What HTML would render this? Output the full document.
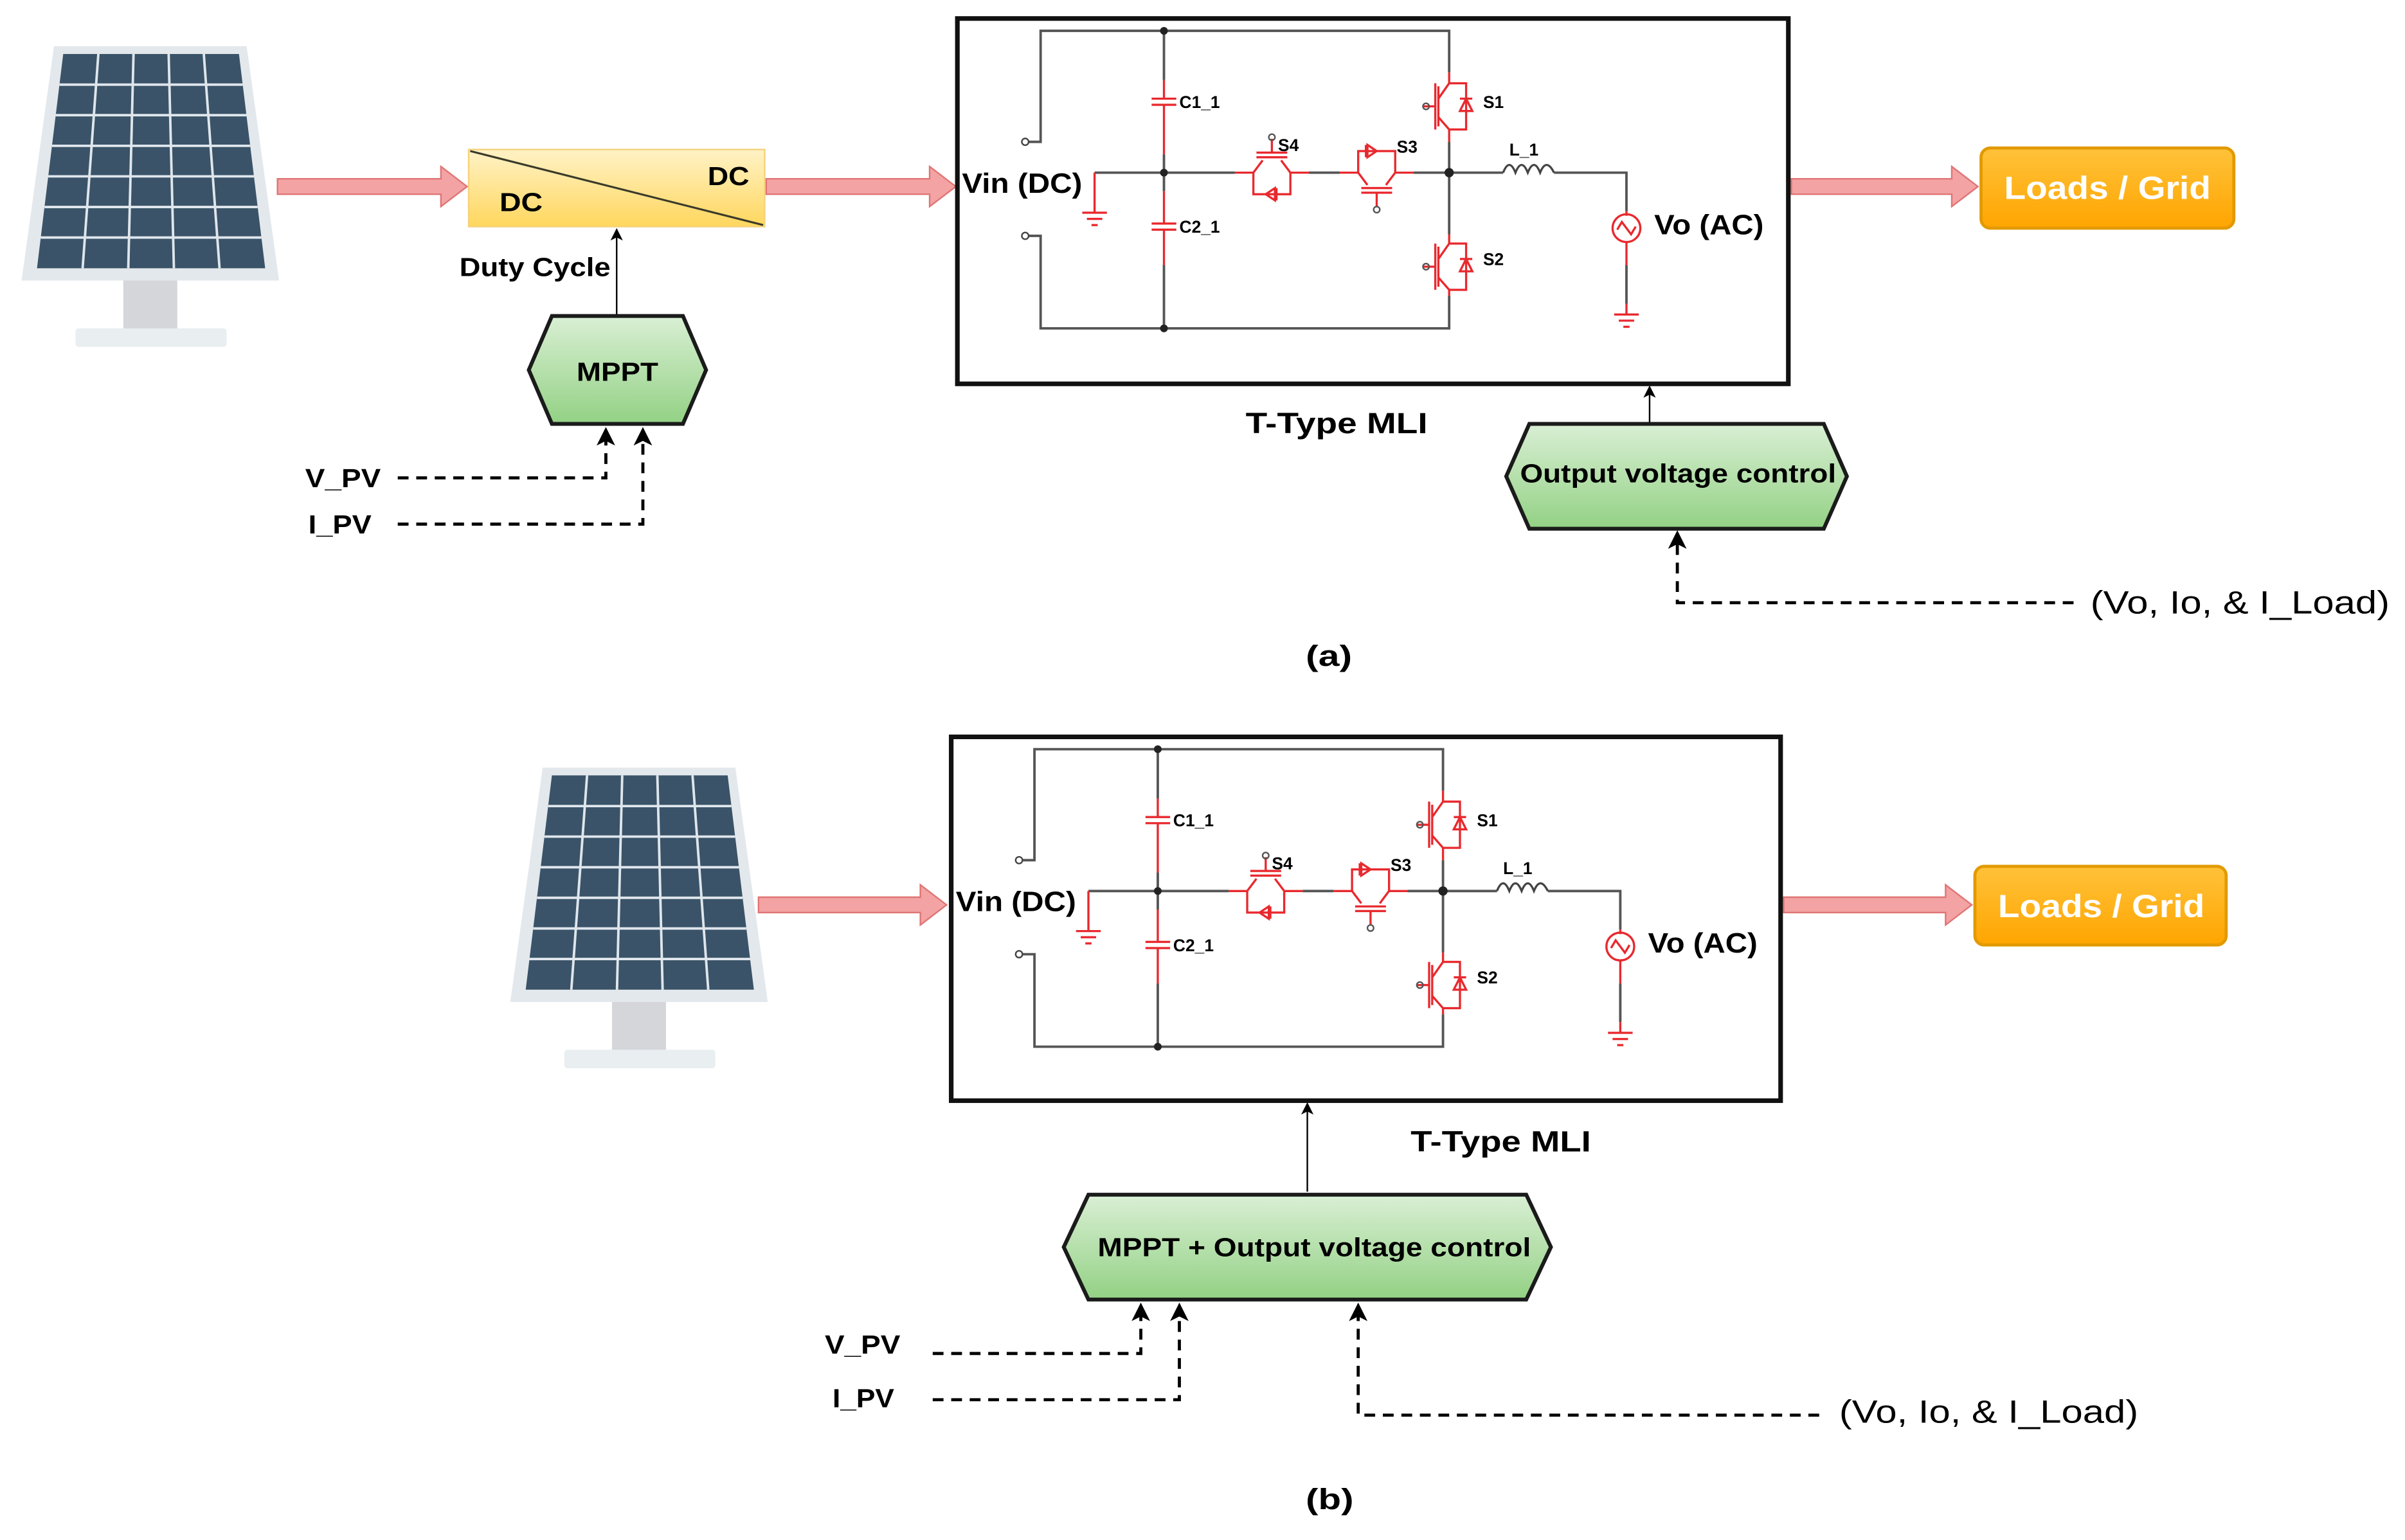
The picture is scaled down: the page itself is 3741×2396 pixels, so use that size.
<!DOCTYPE html>
<html><head><meta charset="utf-8"><style>
html,body{margin:0;padding:0;background:#fff;}
svg{display:block;}
text{font-family:"Liberation Sans",sans-serif;}
</style></head><body>
<svg width="3741" height="2396" viewBox="0 0 1560 999" preserveAspectRatio="none" xmlns="http://www.w3.org/2000/svg">
<defs>
<linearGradient id="yel" x1="0" y1="0" x2="0" y2="1"><stop offset="0" stop-color="#fff2c6"/><stop offset="1" stop-color="#ffd75e"/></linearGradient>
<linearGradient id="grn" x1="0" y1="0" x2="0" y2="1"><stop offset="0" stop-color="#d9efd4"/><stop offset="1" stop-color="#93d184"/></linearGradient>
<linearGradient id="org" x1="0" y1="0" x2="0" y2="1"><stop offset="0" stop-color="#ffc23a"/><stop offset="1" stop-color="#ffa500"/></linearGradient>
<marker id="ah" markerWidth="8" markerHeight="8" refX="6" refY="4" orient="auto" markerUnits="userSpaceOnUse"><path d="M0,0 L8,4 L0,8 L2,4 Z" fill="#000"/></marker>
<marker id="ah2" markerWidth="12" markerHeight="12" refX="9" refY="6" orient="auto" markerUnits="userSpaceOnUse"><path d="M0,0 L12,6 L0,12 L3,6 Z" fill="#000"/></marker>
</defs>

<!-- ============ PART A ============ -->
<g>
<polygon points="35,30 160,30 181,182 14,182" fill="#e3e8ec"/>
<polygon points="41,35 155,35 172,174 24,174" fill="#3a5368"/>
<g stroke="#dfe6ec" stroke-width="1.6">
<line x1="63.8" y1="35" x2="53.6" y2="174"/><line x1="86.6" y1="35" x2="83.2" y2="174"/><line x1="109.4" y1="35" x2="112.8" y2="174"/><line x1="132.2" y1="35" x2="142.4" y2="174"/>
<line x1="38.6" y1="54.9" x2="157.4" y2="54.9"/><line x1="36.1" y1="74.7" x2="159.9" y2="74.7"/><line x1="33.7" y1="94.6" x2="162.3" y2="94.6"/><line x1="31.3" y1="114.4" x2="164.7" y2="114.4"/><line x1="28.9" y1="134.3" x2="167.1" y2="134.3"/><line x1="26.4" y1="154.1" x2="169.6" y2="154.1"/>
</g>
<rect x="80" y="182" width="35" height="32" fill="#d4d6da"/>
<rect x="49" y="213" width="98" height="12" rx="2" fill="#e9eef1"/>
</g>

<g fill="#f3a3a3" stroke="#e07575" stroke-width="1">
<path d="M180,116 H286 V108 L303,121 L286,134 V126 H180 Z"/>
<path d="M497,116 H603 V108 L620,121 L603,134 V126 H497 Z"/>
<path d="M1162,116 H1266 V108 L1283,121 L1266,134 V126 H1162 Z"/>
</g>

<rect x="304" y="97" width="192" height="50" fill="url(#yel)" stroke="#f5d27a" stroke-width="1"/>
<line x1="305" y1="98" x2="495" y2="146" stroke="#3a3a2a" stroke-width="1.3"/>
<text x="324" y="137" font-size="17" font-weight="bold" textLength="28" lengthAdjust="spacingAndGlyphs">DC</text>
<text x="459" y="120" font-size="17" font-weight="bold" textLength="27" lengthAdjust="spacingAndGlyphs">DC</text>
<line x1="400" y1="205" x2="400" y2="150" stroke="#000" stroke-width="1" marker-end="url(#ah)"/>
<text x="298" y="179" font-size="17" font-weight="bold" textLength="98" lengthAdjust="spacingAndGlyphs">Duty Cycle</text>

<polygon points="358,205 443,205 458,240 443,275 358,275 343,240" fill="url(#grn)" stroke="#1b1b1b" stroke-width="2.5"/>
<text x="374" y="247" font-size="17" font-weight="bold" textLength="53" lengthAdjust="spacingAndGlyphs">MPPT</text>
<text x="198" y="316" font-size="17" font-weight="bold" textLength="49" lengthAdjust="spacingAndGlyphs">V_PV</text>
<text x="200" y="346" font-size="17" font-weight="bold" textLength="41" lengthAdjust="spacingAndGlyphs">I_PV</text>
<g fill="none" stroke="#000" stroke-width="2" stroke-dasharray="7,5">
<path d="M258,310 H393 V280" marker-end="url(#ah2)"/>
<path d="M258,340 H417 V280" marker-end="url(#ah2)"/>
<path d="M1345,391 H1088 V347" marker-end="url(#ah2)"/>
</g>

<rect x="621" y="12" width="539" height="237" fill="#fff" stroke="#111" stroke-width="3"/>
<g transform="translate(621,12)">
<g fill="none" stroke="#555" stroke-width="1.6">
<path d="M46,80 H54 V8 H319 V35"/><path d="M46,141 H54 V201 H319 V180"/>
<path d="M134,8 V40"/><path d="M134,88 V112"/><path d="M134,160 V201"/>
<path d="M89,100 H180"/><path d="M228,100 H248"/><path d="M296,100 H354"/><path d="M387,100 H434 V125"/>
<path d="M319,80 V140"/><path d="M434,160 V185"/>
</g>
<g fill="#222"><circle cx="134" cy="8" r="2.5"/><circle cx="134" cy="100" r="2.5"/><circle cx="134" cy="201" r="2.5"/><circle cx="319" cy="100" r="3"/></g>
<g fill="none" stroke="#444" stroke-width="1"><circle cx="44" cy="80" r="2.2"/><circle cx="44" cy="141" r="2.2"/></g>
<g fill="none" stroke="#e8292e" stroke-width="1.4">
<path d="M134,40 V52 M126,52 H142 M126,56 H142 M134,56 V88"/>
<path d="M134,112 V133 M126,133 H142 M126,137 H142 M134,137 V160"/>
<path d="M89,100 V126 M81,126 H97 M84,130 H94 M87,134 H91"/>
<path d="M319,35 V42 H330 V72 H319 V80 M310,42 V72 M312,44 V70 M312,52 L319,42 M312,64 L319,72 M302,57 H310 M330,52 L326,60 H334 Z M326,52 H334"/>
<path d="M319,140 V146 H330 V176 H319 V180 M310,146 V176 M312,148 V174 M312,156 L319,146 M312,168 L319,176 M302,161 H310 M330,156 L326,164 H334 Z M326,156 H334"/>
<path d="M180,100 H192 V114 H216 V100 H228 M192,100 L198,92 M216,100 L210,92 M194,90 H214 M194,87 H214 M204,87 V78 M200,114 L206,110 L206,118 Z M207,110 V118"/>
<path d="M248,100 H260 V86 H284 V100 H296 M260,100 L266,108 M284,100 L278,108 M262,110 H282 M262,113 H282 M272,113 V122 M272,86 L266,82 L266,90 Z M265,82 V90"/>
<path d="M434,125 V128 M434,145 V160 M434,185 V192 M426,192 H442 M429,196 H439 M432,200 H436"/>
<circle cx="434" cy="136" r="9"/>
<path d="M428,137 L431,132 L437,140 L440,135"/>
</g>
<g fill="none" stroke="#555" stroke-width="1"><circle cx="304" cy="57" r="2"/><circle cx="304" cy="161" r="2"/><circle cx="204" cy="77" r="2"/><circle cx="272" cy="124" r="2"/></g>
<path d="M354,100 q4,-10 8,0 q4,-10 8,0 q4,-10 8,0 q4,-10 9,0" fill="none" stroke="#444" stroke-width="1.4"/>
<g font-size="11" font-weight="bold">
<text x="144" y="58">C1_1</text><text x="144" y="139">C2_1</text>
<text x="341" y="58">S1</text><text x="341" y="160">S2</text>
<text x="208" y="86">S4</text><text x="285" y="87">S3</text><text x="358" y="89">L_1</text>
</g>
<text x="3" y="113" font-size="18" font-weight="bold" textLength="78" lengthAdjust="spacingAndGlyphs">Vin (DC)</text>
<text x="452" y="140" font-size="18" font-weight="bold" textLength="71" lengthAdjust="spacingAndGlyphs">Vo (AC)</text>
</g>
<text x="808" y="281" font-size="19" font-weight="bold" textLength="118" lengthAdjust="spacingAndGlyphs">T-Type MLI</text>

<rect x="1285" y="96" width="164" height="52" rx="6" fill="url(#org)" stroke="#e29a00" stroke-width="2"/>
<text x="1300" y="129" font-size="21" font-weight="bold" fill="#fff" textLength="134" lengthAdjust="spacingAndGlyphs">Loads / Grid</text>

<line x1="1070" y1="275" x2="1070" y2="252" stroke="#000" stroke-width="1" marker-end="url(#ah)"/>
<polygon points="992,275 1183,275 1198,309 1183,343 992,343 977,309" fill="url(#grn)" stroke="#1b1b1b" stroke-width="2.5"/>
<text x="986" y="313" font-size="17" font-weight="bold" textLength="205" lengthAdjust="spacingAndGlyphs">Output voltage control</text>
<text x="1356" y="398" font-size="21" textLength="194" lengthAdjust="spacingAndGlyphs">(Vo, Io, &amp; I_Load)</text>
<text x="847" y="432" font-size="19" font-weight="bold" textLength="30" lengthAdjust="spacingAndGlyphs">(a)</text>

<!-- ============ PART B ============ -->
<g transform="translate(317,468)">
<polygon points="35,30 160,30 181,182 14,182" fill="#e3e8ec"/>
<polygon points="41,35 155,35 172,174 24,174" fill="#3a5368"/>
<g stroke="#dfe6ec" stroke-width="1.6">
<line x1="63.8" y1="35" x2="53.6" y2="174"/><line x1="86.6" y1="35" x2="83.2" y2="174"/><line x1="109.4" y1="35" x2="112.8" y2="174"/><line x1="132.2" y1="35" x2="142.4" y2="174"/>
<line x1="38.6" y1="54.9" x2="157.4" y2="54.9"/><line x1="36.1" y1="74.7" x2="159.9" y2="74.7"/><line x1="33.7" y1="94.6" x2="162.3" y2="94.6"/><line x1="31.3" y1="114.4" x2="164.7" y2="114.4"/><line x1="28.9" y1="134.3" x2="167.1" y2="134.3"/><line x1="26.4" y1="154.1" x2="169.6" y2="154.1"/>
</g>
<rect x="80" y="182" width="35" height="32" fill="#d4d6da"/>
<rect x="49" y="213" width="98" height="12" rx="2" fill="#e9eef1"/>
</g>

<g fill="#f3a3a3" stroke="#e07575" stroke-width="1">
<path d="M492,582 H597 V574 L614,587 L597,600 V592 H492 Z"/>
<path d="M1157,582 H1262 V574 L1279,587 L1262,600 V592 H1157 Z"/>
</g>

<rect x="617" y="478" width="538" height="236" fill="#fff" stroke="#111" stroke-width="3"/>
<g transform="translate(617,478)">
<g fill="none" stroke="#555" stroke-width="1.6">
<path d="M46,80 H54 V8 H319 V35"/><path d="M46,141 H54 V201 H319 V180"/>
<path d="M134,8 V40"/><path d="M134,88 V112"/><path d="M134,160 V201"/>
<path d="M89,100 H180"/><path d="M228,100 H248"/><path d="M296,100 H354"/><path d="M387,100 H434 V125"/>
<path d="M319,80 V140"/><path d="M434,160 V185"/>
</g>
<g fill="#222"><circle cx="134" cy="8" r="2.5"/><circle cx="134" cy="100" r="2.5"/><circle cx="134" cy="201" r="2.5"/><circle cx="319" cy="100" r="3"/></g>
<g fill="none" stroke="#444" stroke-width="1"><circle cx="44" cy="80" r="2.2"/><circle cx="44" cy="141" r="2.2"/></g>
<g fill="none" stroke="#e8292e" stroke-width="1.4">
<path d="M134,40 V52 M126,52 H142 M126,56 H142 M134,56 V88"/>
<path d="M134,112 V133 M126,133 H142 M126,137 H142 M134,137 V160"/>
<path d="M89,100 V126 M81,126 H97 M84,130 H94 M87,134 H91"/>
<path d="M319,35 V42 H330 V72 H319 V80 M310,42 V72 M312,44 V70 M312,52 L319,42 M312,64 L319,72 M302,57 H310 M330,52 L326,60 H334 Z M326,52 H334"/>
<path d="M319,140 V146 H330 V176 H319 V180 M310,146 V176 M312,148 V174 M312,156 L319,146 M312,168 L319,176 M302,161 H310 M330,156 L326,164 H334 Z M326,156 H334"/>
<path d="M180,100 H192 V114 H216 V100 H228 M192,100 L198,92 M216,100 L210,92 M194,90 H214 M194,87 H214 M204,87 V78 M200,114 L206,110 L206,118 Z M207,110 V118"/>
<path d="M248,100 H260 V86 H284 V100 H296 M260,100 L266,108 M284,100 L278,108 M262,110 H282 M262,113 H282 M272,113 V122 M272,86 L266,82 L266,90 Z M265,82 V90"/>
<path d="M434,125 V128 M434,145 V160 M434,185 V192 M426,192 H442 M429,196 H439 M432,200 H436"/>
<circle cx="434" cy="136" r="9"/>
<path d="M428,137 L431,132 L437,140 L440,135"/>
</g>
<g fill="none" stroke="#555" stroke-width="1"><circle cx="304" cy="57" r="2"/><circle cx="304" cy="161" r="2"/><circle cx="204" cy="77" r="2"/><circle cx="272" cy="124" r="2"/></g>
<path d="M354,100 q4,-10 8,0 q4,-10 8,0 q4,-10 8,0 q4,-10 9,0" fill="none" stroke="#444" stroke-width="1.4"/>
<g font-size="11" font-weight="bold">
<text x="144" y="58">C1_1</text><text x="144" y="139">C2_1</text>
<text x="341" y="58">S1</text><text x="341" y="160">S2</text>
<text x="208" y="86">S4</text><text x="285" y="87">S3</text><text x="358" y="89">L_1</text>
</g>
<text x="3" y="113" font-size="18" font-weight="bold" textLength="78" lengthAdjust="spacingAndGlyphs">Vin (DC)</text>
<text x="452" y="140" font-size="18" font-weight="bold" textLength="71" lengthAdjust="spacingAndGlyphs">Vo (AC)</text>
</g>
<text x="915" y="747" font-size="19" font-weight="bold" textLength="117" lengthAdjust="spacingAndGlyphs">T-Type MLI</text>

<rect x="1281" y="562" width="163" height="51" rx="6" fill="url(#org)" stroke="#e29a00" stroke-width="2"/>
<text x="1296" y="595" font-size="21" font-weight="bold" fill="#fff" textLength="134" lengthAdjust="spacingAndGlyphs">Loads / Grid</text>

<line x1="848" y1="773" x2="848" y2="717" stroke="#000" stroke-width="1" marker-end="url(#ah)"/>
<polygon points="706,775 990,775 1006,809 990,843 706,843 690,809" fill="url(#grn)" stroke="#1b1b1b" stroke-width="2.5"/>
<text x="712" y="815" font-size="17" font-weight="bold" textLength="281" lengthAdjust="spacingAndGlyphs">MPPT + Output voltage control</text>

<text x="535" y="878" font-size="17" font-weight="bold" textLength="49" lengthAdjust="spacingAndGlyphs">V_PV</text>
<text x="540" y="913" font-size="17" font-weight="bold" textLength="40" lengthAdjust="spacingAndGlyphs">I_PV</text>
<g fill="none" stroke="#000" stroke-width="2" stroke-dasharray="7,5">
<path d="M605,878 H740 V848" marker-end="url(#ah2)"/>
<path d="M605,908 H765 V848" marker-end="url(#ah2)"/>
<path d="M1180,918 H881 V848" marker-end="url(#ah2)"/>
</g>
<text x="1193" y="923" font-size="21" textLength="194" lengthAdjust="spacingAndGlyphs">(Vo, Io, &amp; I_Load)</text>
<text x="847" y="979" font-size="19" font-weight="bold" textLength="31" lengthAdjust="spacingAndGlyphs">(b)</text>
</svg>
</body></html>
